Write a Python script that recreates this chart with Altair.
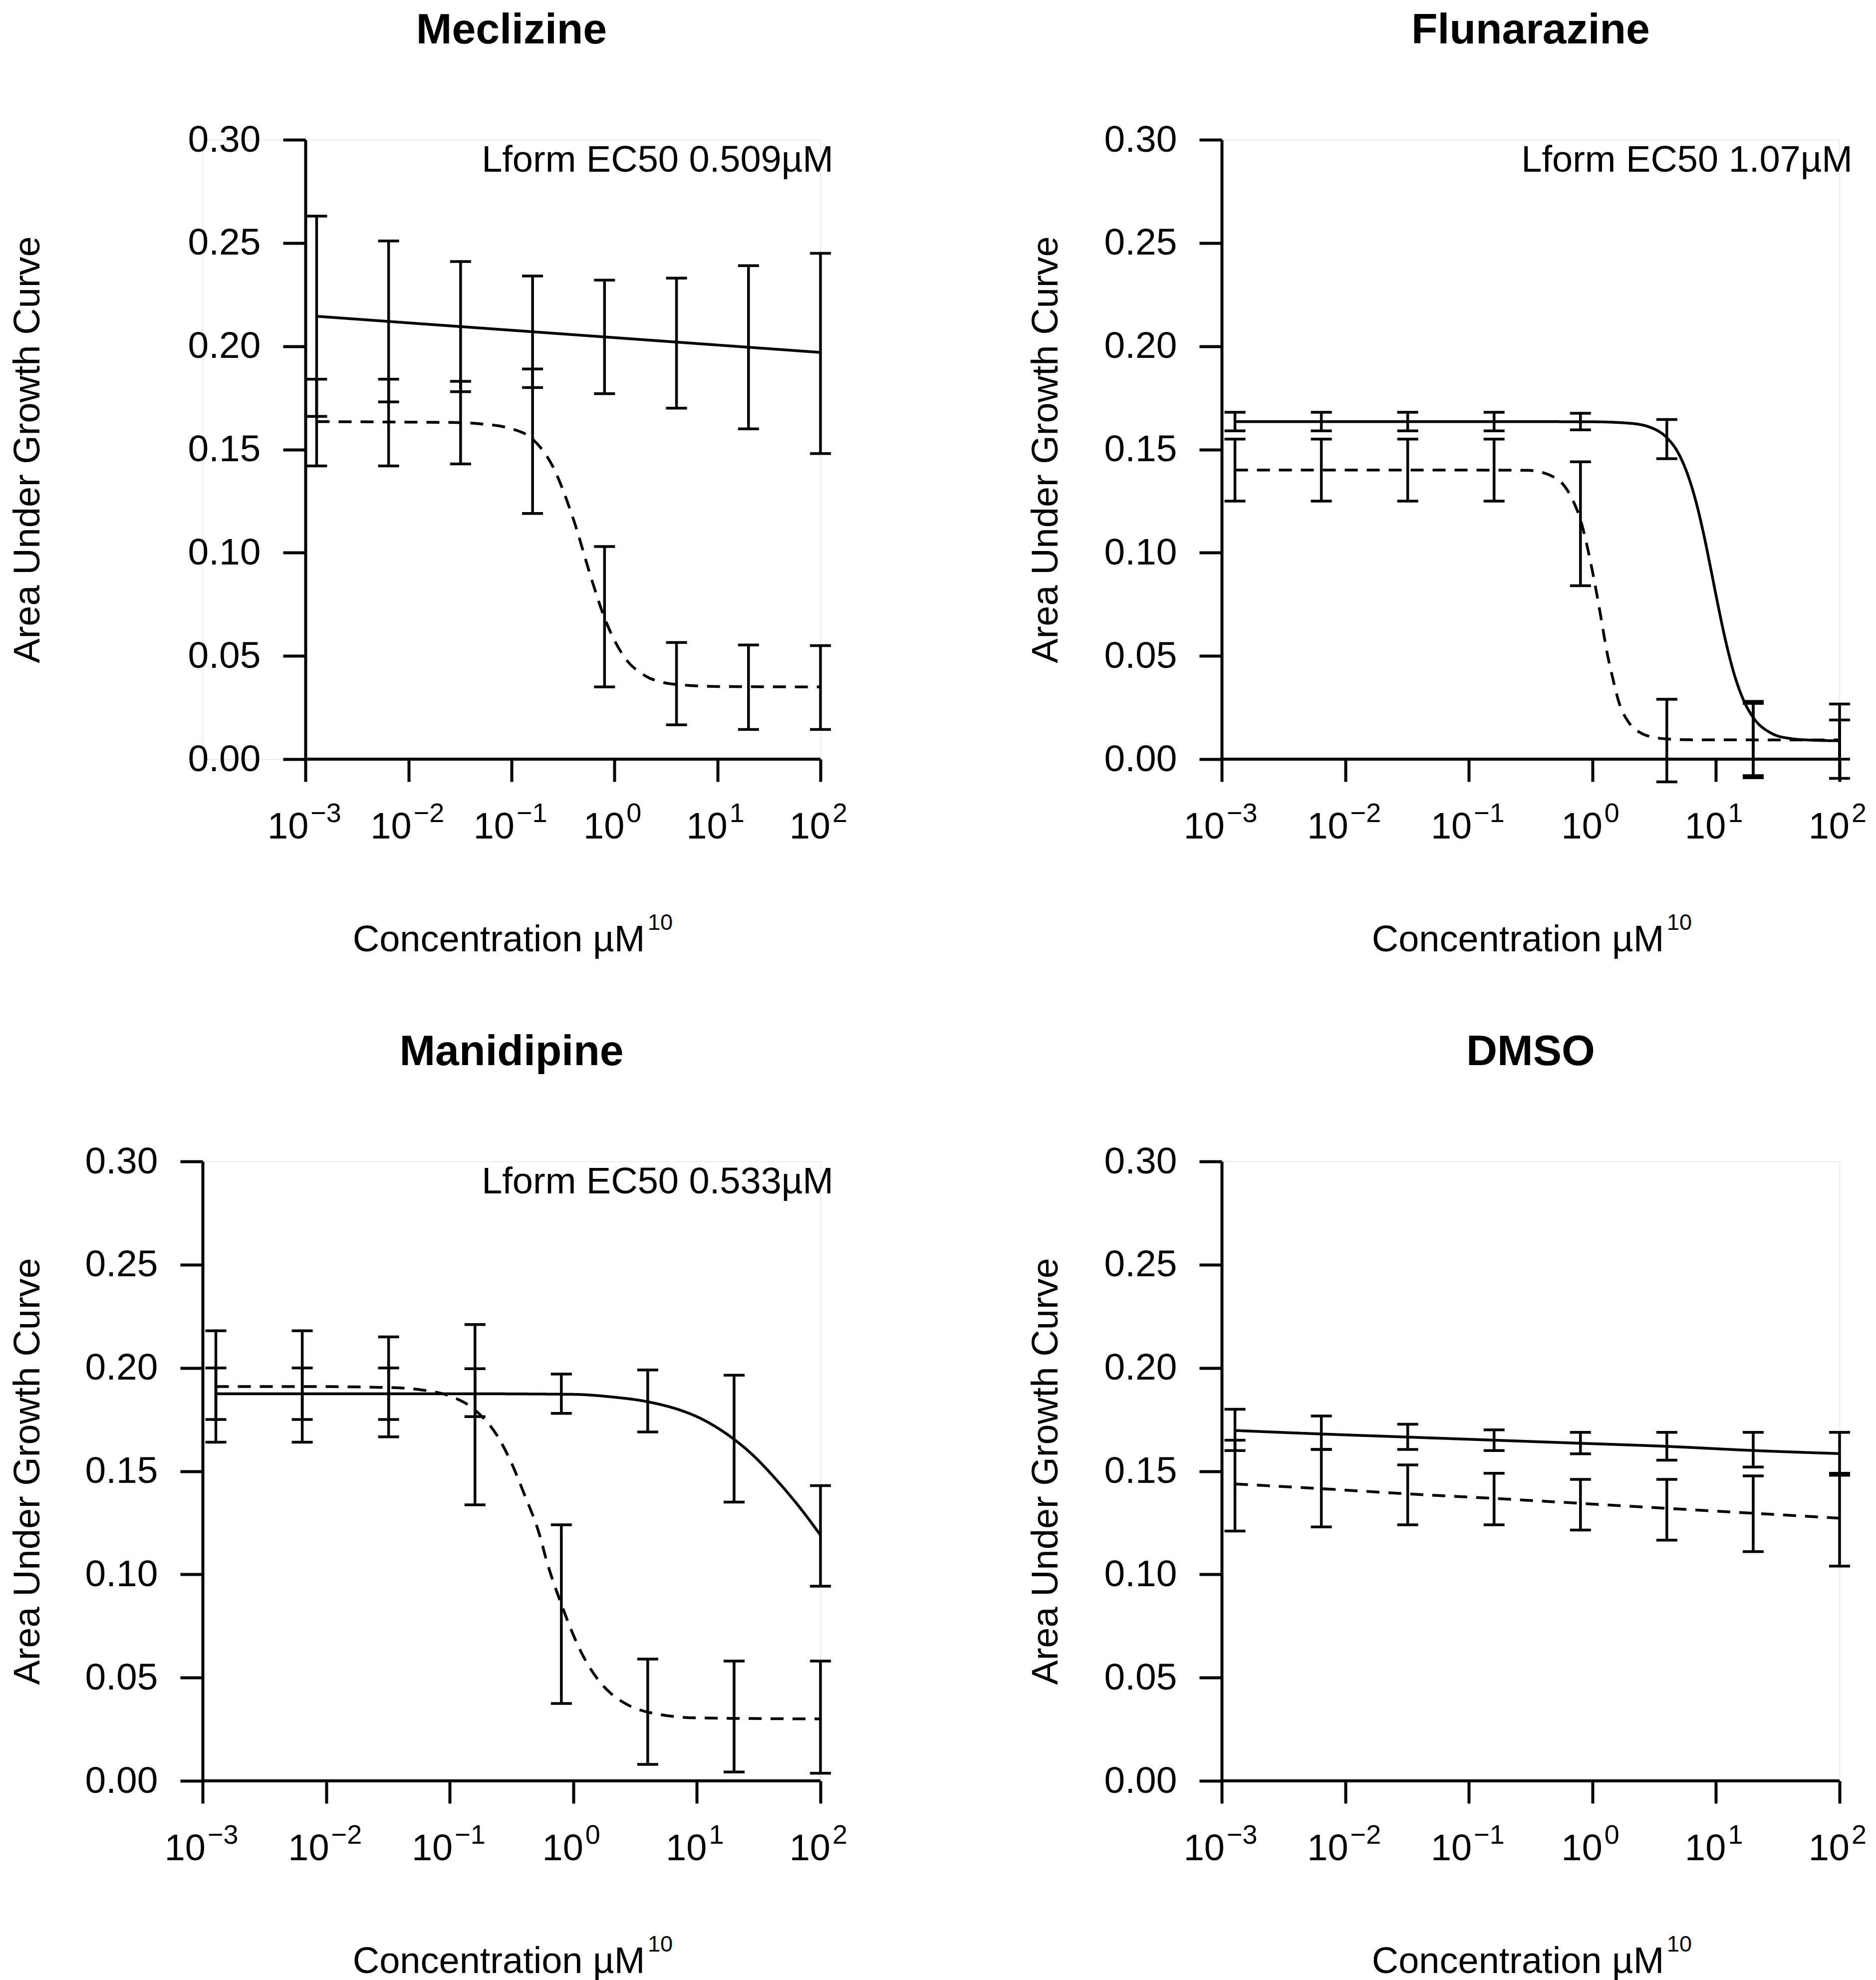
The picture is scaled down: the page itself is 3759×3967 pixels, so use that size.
import altair as alt
import pandas as pd

FONT = "Liberation Sans"
W, H = 1238, 1241

# ---------------- shared values ----------------
conc = [0.00128, 0.0064, 0.032, 0.16, 0.8, 4, 20, 100]
x_tick_values = [0.001, 0.01, 0.1, 1, 10, 100]
x_tick_exponents = ["\u22123", "\u22122", "\u22121", "0", "1", "2"]
x_tick_negative = [True, True, True, False, False, False]
y_tick_values = [0.0, 0.05, 0.10, 0.15, 0.20, 0.25, 0.30]

titles = ["Meclizine", "Flunarazine", "Manidipine", "DMSO"]
ec50_labels = ["Lform EC50 0.509\u00b5M", "Lform EC50 1.07\u00b5M", "Lform EC50 0.533\u00b5M", ""]
x_title = "Concentration \u00b5M"
x_title_superscript = "10"
y_title = "Area Under Growth Curve"

# ---------------- Meclizine ----------------
mec_solid_lo = [0.166, 0.173, 0.178, 0.180, 0.177, 0.170, 0.160, 0.148]
mec_solid_hi = [0.263, 0.251, 0.241, 0.234, 0.232, 0.233, 0.239, 0.245]
mec_dashed_lo = [0.142, 0.142, 0.143, 0.119, 0.035, 0.0166, 0.0144, 0.0144]
mec_dashed_hi = [0.184, 0.184, 0.183, 0.189, 0.103, 0.0565, 0.0553, 0.055]
mec_solid_cx = [0.00128, 0.032, 0.8, 100]
mec_solid_cy = [0.2145, 0.2095, 0.2045, 0.197]
mec_dashed_cx = [0.00128, 0.0064, 0.032, 0.05, 0.1, 0.16, 0.25, 0.4, 0.6, 0.8, 1.2, 2, 3, 5, 10, 20, 100]
mec_dashed_cy = [0.1635, 0.1633, 0.163, 0.1624, 0.160, 0.155, 0.142, 0.116, 0.087, 0.0684, 0.0506,
                 0.0403, 0.0371, 0.0358, 0.0352, 0.0351, 0.035]

# ---------------- Flunarazine ----------------
flu_solid_lo = [0.159, 0.159, 0.159, 0.159, 0.1595, 0.1455, -0.008, 0.000]
flu_solid_hi = [0.168, 0.168, 0.168, 0.168, 0.1675, 0.1645, 0.028, 0.019]
flu_dashed_lo = [0.125, 0.125, 0.125, 0.125, 0.084, -0.011, -0.009, -0.0093]
flu_dashed_hi = [0.155, 0.155, 0.155, 0.155, 0.144, 0.029, 0.027, 0.0267]
flu_solid_cx = [0.00128, 0.1, 1, 2, 3, 4, 5, 6, 7, 8, 9, 10, 12, 14, 17, 20, 28, 40, 60, 100]
flu_solid_cy = [0.1635, 0.1635, 0.1634, 0.1627, 0.1605, 0.1557, 0.1478, 0.1366, 0.1231, 0.1082,
                0.0933, 0.0794, 0.0570, 0.0414, 0.0276, 0.0202, 0.0126, 0.0100, 0.0092, 0.0089]
flu_dashed_cx = [0.00128, 0.1, 0.3, 0.5, 0.7, 0.8, 0.9, 1.0, 1.1, 1.2, 1.3, 1.45, 1.65, 2.0, 2.5, 3, 4, 6, 100]
flu_dashed_cy = [0.140, 0.140, 0.1399, 0.1363, 0.1249, 0.116, 0.104, 0.091, 0.078, 0.065, 0.053,
                 0.040, 0.027, 0.0172, 0.0125, 0.0108, 0.0098, 0.0094, 0.0093]

# ---------------- Manidipine ----------------
man_solid_lo = [0.175, 0.175, 0.175, 0.1764, 0.178, 0.169, 0.135, 0.0943]
man_solid_hi = [0.200, 0.200, 0.200, 0.1996, 0.197, 0.199, 0.1965, 0.143]
man_dashed_lo = [0.164, 0.164, 0.1666, 0.1337, 0.0375, 0.008, 0.0043, 0.0037]
man_dashed_hi = [0.218, 0.218, 0.215, 0.221, 0.124, 0.059, 0.058, 0.058]
man_solid_cx = [0.00128, 0.1, 1, 2, 4, 7.7, 10, 15, 20, 26.5, 46, 72, 100]
man_solid_cy = [0.1875, 0.1875, 0.1872, 0.186, 0.1836, 0.1791, 0.1764, 0.1706, 0.1654, 0.1594,
                0.1445, 0.1305, 0.119]
man_dashed_cx = [0.00128, 0.0064, 0.032, 0.06, 0.1, 0.16, 0.25, 0.31, 0.4, 0.54, 0.6, 0.8, 1.2,
                 1.6, 2, 2.8, 4, 10, 100]
man_dashed_cy = [0.191, 0.191, 0.1905, 0.1893, 0.1864, 0.1796, 0.1658, 0.155, 0.139, 0.118, 0.1078,
                 0.0855, 0.0605, 0.0487, 0.0425, 0.0366, 0.0333, 0.0305, 0.030]

# ---------------- DMSO ----------------
dmso_solid_lo = [0.160, 0.1605, 0.1605, 0.160, 0.1584, 0.1553, 0.152, 0.148]
dmso_solid_hi = [0.180, 0.1767, 0.1727, 0.170, 0.1688, 0.1688, 0.1688, 0.1688]
dmso_dashed_lo = [0.121, 0.123, 0.124, 0.124, 0.1215, 0.1166, 0.111, 0.104]
dmso_dashed_hi = [0.165, 0.1605, 0.153, 0.149, 0.146, 0.146, 0.1477, 0.149]
dmso_solid_cy = [0.1697, 0.168, 0.1665, 0.165, 0.1635, 0.162, 0.160, 0.1585]
dmso_dashed_cy = [0.1438, 0.1415, 0.139, 0.1368, 0.1344, 0.132, 0.1296, 0.1272]


def panel(idx, xmin, s_lo, s_hi, d_lo, d_hi, scx, scy, dcx, dcy, y_offset, ytitle_x):
    xscale = alt.Scale(type="log", domain=[xmin, 100], nice=False)
    yscale = alt.Scale(domain=[0, 0.30], nice=False, zero=False)
    xaxis = alt.Axis(values=x_tick_values, labels=False, domain=False, ticks=True,
                     tickSize=45, tickWidth=6, tickColor="black", grid=False,
                     title=x_title, titleFont=FONT, titleFontSize=74, titleFontWeight="normal",
                     titleColor="black", titleX=W / 2 - 26, titleY=384, titleBaseline="alphabetic",
                     titleAlign="center")
    yaxis = alt.Axis(values=y_tick_values, format=".2f", grid=False, offset=y_offset,
                     domain=True, domainWidth=6, domainColor="black",
                     tickSize=45, tickWidth=6, tickColor="black",
                     labelFont=FONT, labelFontSize=75, labelColor="black", labelPadding=45,
                     labelFlush=False,
                     title=y_title, titleFont=FONT, titleFontSize=74, titleFontWeight="normal",
                     titleColor="black", titleAngle=270, titleX=ytitle_x, titleY=H / 2,
                     titleBaseline="middle", titleAlign="center")

    def X(f):
        return alt.X(f, scale=xscale, axis=xaxis)

    def Y(f):
        return alt.Y(f, scale=yscale, axis=yaxis)

    curves = pd.DataFrame({
        "x": scx + dcx,
        "y": scy + dcy,
        "series": ["solid"] * len(scx) + ["dashed"] * len(dcx),
    })
    err = pd.DataFrame({"x": conc + conc, "lo": s_lo + d_lo, "hi": s_hi + d_hi})
    caps = pd.DataFrame({"x": conc * 4, "v": s_lo + s_hi + d_lo + d_hi})
    axis_line = pd.DataFrame({"x": [x_tick_values[0]], "x2": [x_tick_values[-1]], "y0": [0.0]})
    ticks = pd.DataFrame({"v": x_tick_values, "exp": x_tick_exponents, "neg": x_tick_negative})

    base_axis = alt.Chart(axis_line).mark_rule(color="black", strokeWidth=6).encode(
        x=X("x:Q"), x2=alt.X2("x2:Q"), y=Y("y0:Q"))

    lines = alt.Chart(curves).mark_line(color="black", strokeWidth=5.5, interpolate="monotone").encode(
        x=X("x:Q"), y=Y("y:Q"),
        strokeDash=alt.StrokeDash("series:N", scale=alt.Scale(domain=["solid", "dashed"],
                                                              range=[[1, 0], [26, 18]]), legend=None),
        detail="series:N")

    bars = alt.Chart(err).mark_rule(color="black", strokeWidth=5.5).encode(
        x=X("x:Q"), y=Y("lo:Q"), y2=alt.Y2("hi:Q"))

    cap_marks = alt.Chart(caps).mark_tick(color="black", orient="horizontal", size=42,
                                          thickness=5.5, opacity=1).encode(
        x=X("x:Q"), y=Y("v:Q"))

    layers = [base_axis, bars, cap_marks, lines]

    # x tick labels: "10" with superscript exponent
    for neg, dx_base, dx_exp in [(True, 6, 10), (False, 20, 24)]:
        flt = "datum.neg" if neg else "!datum.neg"
        layers.append(
            alt.Chart(ticks).transform_filter(flt).mark_text(
                text="10", align="right", baseline="alphabetic", dx=dx_base,
                font=FONT, fontSize=74, color="black").encode(
                x=X("v:Q"), y=alt.value(H + 159)))
        layers.append(
            alt.Chart(ticks).transform_filter(flt).mark_text(
                align="left", baseline="alphabetic", dx=dx_exp,
                font=FONT, fontSize=54, color="black").encode(
                x=X("v:Q"), y=alt.value(H + 126), text="exp:N"))

    # superscript of the x-axis title
    sup = pd.DataFrame({"label": [x_title_superscript]})
    layers.append(
        alt.Chart(sup).mark_text(align="left", baseline="alphabetic", font=FONT, fontSize=45,
                                 color="black").encode(
            x=alt.value(W / 2 + 273), y=alt.value(H + 342), text="label:N"))

    if ec50_labels[idx]:
        ann = pd.DataFrame({"label": [ec50_labels[idx]]})
        layers.append(
            alt.Chart(ann).mark_text(align="right", baseline="middle", font=FONT, fontSize=74,
                                     color="black").encode(
                x=alt.value(W + 26), y=alt.value(42), text="label:N"))

    return alt.layer(*layers).properties(
        width=W, height=H,
        title=alt.Title(titles[idx], font=FONT, fontSize=86, fontWeight="bold", color="black",
                        anchor="middle", frame="group", offset=138))


p1 = panel(0, 0.0001, mec_solid_lo, mec_solid_hi, mec_dashed_lo, mec_dashed_hi,
           mec_solid_cx, mec_solid_cy, mec_dashed_cx, mec_dashed_cy, -206, -556)
p2 = panel(1, 0.001, flu_solid_lo, flu_solid_hi, flu_dashed_lo, flu_dashed_hi,
           flu_solid_cx, flu_solid_cy, flu_dashed_cx, flu_dashed_cy, 0, -352)
p3 = panel(2, 0.001, man_solid_lo, man_solid_hi, man_dashed_lo, man_dashed_hi,
           man_solid_cx, man_solid_cy, man_dashed_cx, man_dashed_cy, 0, -350)
p4 = panel(3, 0.001, dmso_solid_lo, dmso_solid_hi, dmso_dashed_lo, dmso_dashed_hi,
           conc, dmso_solid_cy, conc, dmso_dashed_cy, 0, -352)

chart = alt.concat(p1, p2, p3, p4, columns=2, spacing={"row": 806, "column": 804},
                   bounds="flush").properties(
    padding={"left": 10, "top": 9, "right": 5, "bottom": 2}
).configure_view(stroke=None).configure(background="white")

chart.save("out.html", embed_options={"renderer": "svg", "actions": False})
